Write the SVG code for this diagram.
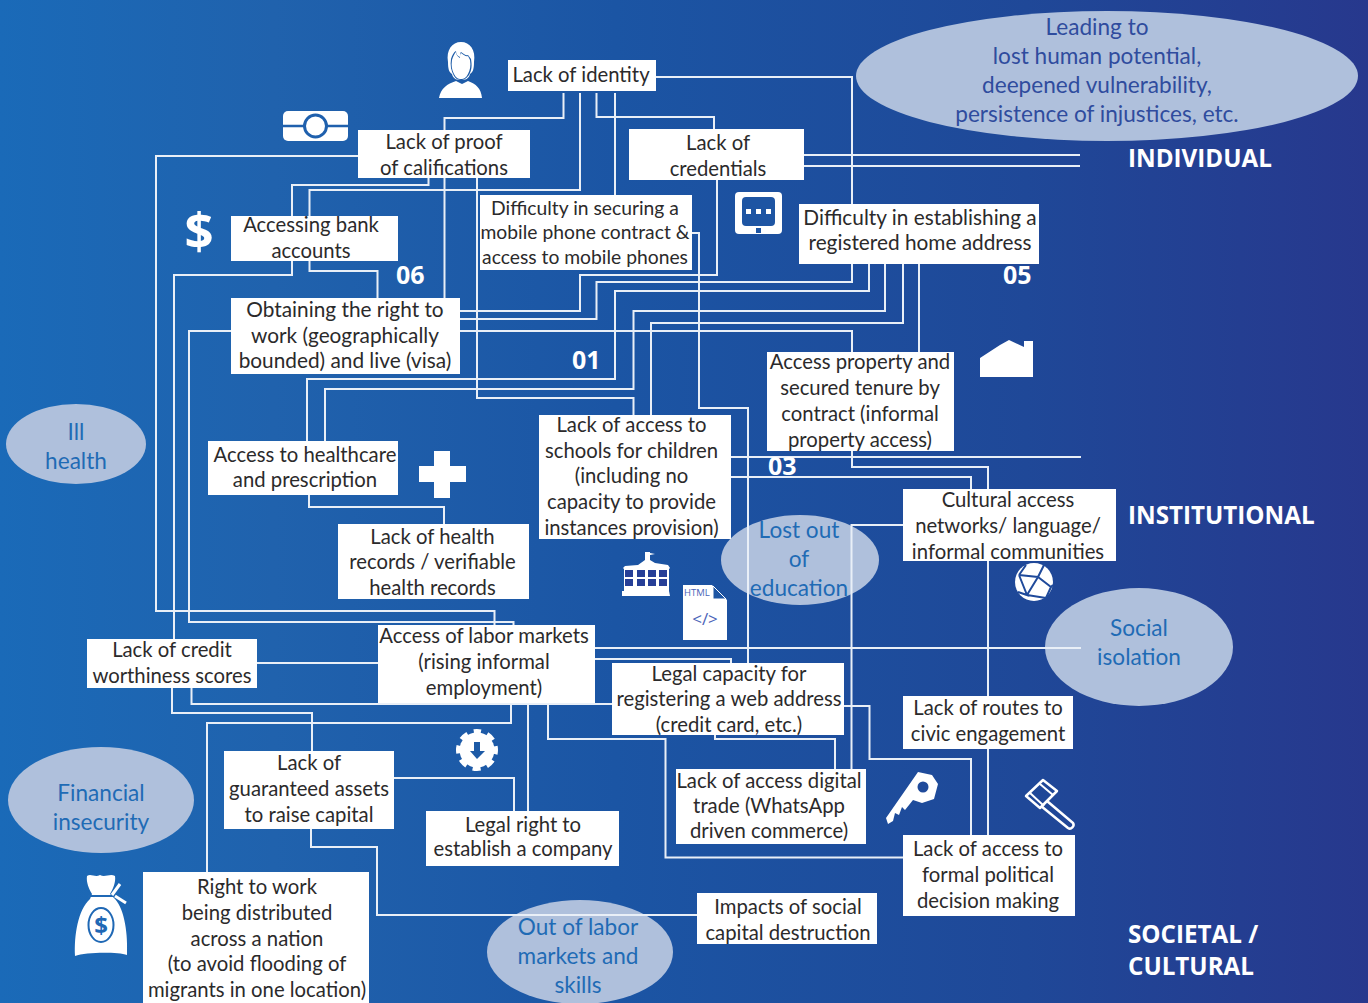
<svg xmlns="http://www.w3.org/2000/svg" width="1368" height="1003" viewBox="0 0 1368 1003">
<style>
.box{fill:#fff}
.t{font-family:"Lato","Open Sans","Liberation Sans",sans-serif;font-size:20.3px;fill:#2b2a2b;text-anchor:middle}
.m{font-size:19.300px}
.w{font-size:20.800px}
.e{font-family:"Lato","Open Sans","Liberation Sans",sans-serif;font-size:22.600px;fill:#1f6bb5;text-anchor:middle}
.e2{fill:#2f4c9e}
.el{fill:#afc0dc}
.n{font-family:"Open Sans","Liberation Sans",sans-serif;font-size:25px;font-weight:700;fill:#fff}
.h{font-family:"Open Sans","Liberation Sans",sans-serif;font-size:24.200px;font-weight:700;fill:#fff}
.c path{fill:none;stroke:#e9eff7;stroke-width:2}
.i{fill:#fff}
</style>
<defs>
<linearGradient id="bg" x1="0" y1="0" x2="1" y2="0">
<stop offset="0" stop-color="#1a6ab8"/>
<stop offset="0.2" stop-color="#2062ad"/>
<stop offset="0.45" stop-color="#1b55a4"/>
<stop offset="0.75" stop-color="#1f4898"/>
<stop offset="1" stop-color="#27388d"/>
</linearGradient>
</defs>
<rect width="1368" height="1003" fill="url(#bg)"/>

<g id="outcomes">
<ellipse class="el" cx="1107" cy="76" rx="251" ry="65"/>
<ellipse class="el" cx="76" cy="444" rx="70" ry="40"/>
<ellipse class="el" cx="101" cy="800" rx="93" ry="53"/>
<ellipse class="el" cx="800" cy="560" rx="79" ry="45"/>
<ellipse class="el" cx="1139" cy="647" rx="94" ry="59"/>
<ellipse class="el" cx="580" cy="952" rx="93" ry="52"/>
</g>

<g id="connectors" class="c">
<path d="M563.5 93V118H444.5V130"/>
<path d="M580 93V190H309.5V216"/>
<path d="M596.5 93V117H714V129"/>
<path d="M615 93V195"/>
<path d="M656 77H852V204"/>
<path d="M358 156H156V611H494.5V625"/>
<path d="M428.5 178V185H292V216"/>
<path d="M444.5 178V298"/>
<path d="M477 178V398H633.5V415"/>
<path d="M292 261V275H174V639"/>
<path d="M309.5 261V271H377.5V298"/>
<path d="M231 331H189V622H513.5V625"/>
<path d="M460 311H580V275H717V180"/>
<path d="M460 319H596.5V282H852V264"/>
<path d="M869 264V291H615V379H307V441"/>
<path d="M885 264V311H633.5V389H325V441"/>
<path d="M903 264V323H651V415"/>
<path d="M460 331H852V352"/>
<path d="M919 264V352"/>
<path d="M804 155H1080"/>
<path d="M804 166H1080"/>
<path d="M692 233H699V408H748V663"/>
<path d="M852 451V467H988V489"/>
<path d="M731 457H1081"/>
<path d="M731 477H971V489"/>
<path d="M903 525H851.5V769"/>
<path d="M988 561V696"/>
<path d="M988 749V835"/>
<path d="M595 648H1081"/>
<path d="M595 659H731V663"/>
<path d="M191.5 687V704H612"/>
<path d="M844 706H869.5V759H971V835"/>
<path d="M715 735V739H835V769"/>
<path d="M548 702V739H665.5V857.500H903"/>
<path d="M528 702V811"/>
<path d="M511 702V723H207V872"/>
<path d="M172 687V713H312V751"/>
<path d="M257 663H378"/>
<path d="M394 778H514V811"/>
<path d="M311 829V847H377V915H697"/>
<path d="M309 495V507H444V524"/>
</g>

<g id="lack-of-identity"><rect class="box" x="508" y="60" width="148" height="31"/><text class="t" x="581" y="82">Lack of identity</text></g>
<g id="proof"><rect class="box" x="358" y="130" width="172" height="48"/><text class="t" x="444" y="149">Lack of proof</text><text class="t" x="444" y="175">of califications</text></g>
<g id="credentials"><rect class="box" x="629" y="129" width="175" height="51"/><text class="t" x="718" y="150">Lack of</text><text class="t" x="718" y="176">credentials</text></g>
<g id="mobile"><rect class="box" x="480" y="195" width="212" height="75"/><text class="t m" x="585" y="215">Difficulty in securing a</text><text class="t m" x="585" y="239">mobile phone contract &amp;</text><text class="t m" x="585" y="264">access to mobile phones</text></g>
<g id="bank"><rect class="box" x="231" y="216" width="167" height="45"/><text class="t" x="311" y="232">Accessing bank</text><text class="t" x="311" y="258">accounts</text></g>
<g id="home"><rect class="box" x="799" y="204" width="240" height="60"/><text class="t w" x="920" y="225">Difficulty in establishing a</text><text class="t w" x="920" y="250">registered home address</text></g>
<g id="visa"><rect class="box" x="231" y="298" width="229" height="76"/><text class="t w" x="345" y="317">Obtaining the right to</text><text class="t w" x="345" y="343">work (geographically</text><text class="t w" x="345" y="368">bounded) and live (visa)</text></g>
<g id="property"><rect class="box" x="767" y="352" width="187" height="99"/><text class="t" x="860" y="369">Access property and</text><text class="t" x="860" y="395">secured tenure by</text><text class="t" x="860" y="421">contract (informal</text><text class="t" x="860" y="447">property access)</text></g>
<g id="schools"><rect class="box" x="539" y="415" width="192" height="124"/><text class="t" x="631.500" y="432">Lack of access to</text><text class="t" x="631.500" y="458">schools for children</text><text class="t" x="631.500" y="483">(including no</text><text class="t" x="631.500" y="509">capacity to provide</text><text class="t" x="631.500" y="535">instances provision)</text></g>
<g id="healthcare"><rect class="box" x="208" y="441" width="190" height="54"/><text class="t" x="305" y="462">Access to healthcare</text><text class="t" x="305" y="487">and prescription</text></g>
<g id="records"><rect class="box" x="338" y="524" width="191" height="75"/><text class="t" x="432.500" y="544">Lack of health</text><text class="t" x="432.500" y="569">records / verifiable</text><text class="t" x="432.500" y="595">health records</text></g>
<g id="labor"><rect class="box" x="378" y="625" width="217" height="78"/><text class="t" x="484" y="643">Access of labor markets</text><text class="t" x="484" y="669">(rising informal</text><text class="t" x="484" y="695">employment)</text></g>
<g id="credit"><rect class="box" x="87" y="639" width="170" height="49"/><text class="t" x="172" y="657">Lack of credit</text><text class="t" x="172" y="683">worthiness scores</text></g>
<g id="legal-web"><rect class="box" x="612" y="663" width="232" height="72"/><text class="t" x="729" y="681">Legal capacity for</text><text class="t" x="729" y="706">registering a web address</text><text class="t" x="729" y="732">(credit card, etc.)</text></g>
<g id="cultural"><rect class="box" x="903" y="489" width="213" height="72"/><text class="t" x="1008" y="507">Cultural access</text><text class="t" x="1008" y="533">networks/ language/</text><text class="t" x="1008" y="559">informal communities</text></g>
<g id="routes"><rect class="box" x="903" y="696" width="170" height="53"/><text class="t" x="988" y="715">Lack of routes to</text><text class="t" x="988" y="741">civic engagement</text></g>
<g id="political"><rect class="box" x="903" y="835" width="172" height="81"/><text class="t" x="988" y="856">Lack of access to</text><text class="t" x="988" y="882">formal political</text><text class="t" x="988" y="908">decision making</text></g>
<g id="digital"><rect class="box" x="676" y="769" width="190" height="75"/><text class="t" x="769" y="788">Lack of access digital</text><text class="t" x="769" y="813">trade (WhatsApp</text><text class="t" x="769" y="838">driven commerce)</text></g>
<g id="impacts"><rect class="box" x="697" y="893" width="180" height="51"/><text class="t" x="788" y="914">Impacts of social</text><text class="t" x="788" y="940">capital destruction</text></g>
<g id="assets"><rect class="box" x="224" y="751" width="170" height="78"/><text class="t" x="309" y="770">Lack of</text><text class="t" x="309" y="796">guaranteed assets</text><text class="t" x="309" y="822">to raise capital</text></g>
<g id="company"><rect class="box" x="426" y="811" width="193" height="55"/><text class="t" x="523" y="832">Legal right to</text><text class="t" x="523" y="856">establish a company</text></g>
<g id="right-to-work"><rect class="box" x="143" y="872" width="226" height="131"/><text class="t" x="257" y="894">Right to work</text><text class="t" x="257" y="920">being distributed</text><text class="t" x="257" y="946">across a nation</text><text class="t" x="257" y="971">(to avoid flooding of</text><text class="t" x="257" y="997">migrants in one location)</text></g>

<g id="outcome-labels">
<text class="e e2" x="1097" y="35">Leading to</text><text class="e e2" x="1097" y="64">lost human potential,</text><text class="e e2" x="1097" y="93">deepened vulnerability,</text><text class="e e2" x="1097" y="122">persistence of injustices, etc.</text>
<text class="e" x="76" y="440">Ill</text><text class="e" x="76" y="469">health</text>
<text class="e" x="101" y="801">Financial</text><text class="e" x="101" y="830">insecurity</text>
<text class="e" x="799" y="538">Lost out</text><text class="e" x="799" y="567">of</text><text class="e" x="799" y="596">education</text>
<text class="e" x="1139" y="636">Social</text><text class="e" x="1139" y="665">isolation</text>
<text class="e" x="578" y="935">Out of labor</text><text class="e" x="578" y="964">markets and</text><text class="e" x="578" y="993">skills</text>
</g>

<g id="numbers">
<text class="n" x="396" y="284">06</text><text class="n" x="1003" y="284">05</text><text class="n" x="572" y="369">01</text><text class="n" x="768" y="475">03</text>
</g>
<g id="levels">
<text class="h" x="1128" y="167">INDIVIDUAL</text><text class="h" x="1128" y="524">INSTITUTIONAL</text><text class="h" x="1128" y="943">SOCIETAL /</text><text class="h" x="1128" y="975">CULTURAL</text>
</g>

<g id="icon-person">
<path class="i" d="M439 98C441 88 447 84 456 81L462 84L468 81C476 84 481 88 482 98Z"/>
<path class="i" d="M448 62C446 50 452 42 461 42C470 42 476 50 474 62C474 69 473 72 470 74C469 79 465 80 461 80C457 80 453 79 452 74C449 72 448 69 448 62Z"/>
<path fill="#1d5ca8" d="M451 59C452 55 454 52 456 51C456 54 457 56 460 57C460 54 460 53 461 52C464 54 466 56 468 55L471 59C472 65 472 70 469 75C466 79 464 80 461 80C458 80 456 79 454 76C451 71 450 65 451 59Z"/>
<path class="i" d="M452 60C453 56 455 53 456 52C456 55 458 57 460 58C460 55 460 54 461 53C464 55 466 57 468 56L470 60C471 66 470 70 468 74C466 78 464 79 461 79C458 79 456 78 454 74C452 70 451 66 452 60Z"/>
</g>
<g id="icon-card">
<rect class="i" x="283" y="111" width="65" height="30" rx="5"/>
<path d="M283 126H348" stroke="#1f60ad" stroke-width="2.500"/>
<circle cx="315.500" cy="126" r="11" fill="#fff" stroke="#1f60ad" stroke-width="3"/>
</g>
<g id="icon-dollar"><text x="199" y="249" font-family="Open Sans,Liberation Sans,sans-serif" font-size="51" font-weight="700" fill="#fff" text-anchor="middle">$</text></g>
<g id="icon-tablet">
<rect class="i" x="735" y="192" width="47" height="42" rx="4"/>
<rect x="742" y="197" width="33" height="29" rx="4" fill="#1e55a3"/>
<rect class="i" x="746" y="209" width="5" height="5"/><rect class="i" x="756" y="209" width="5" height="5"/><rect class="i" x="766" y="209" width="5" height="5"/>
<rect x="756" y="228" width="5" height="5" fill="#1e55a3"/>
</g>
<g id="icon-house"><path class="i" d="M980 358V377H1033V341H1024V347L1009 340L1000 345Z"/></g>
<g id="icon-plus"><path class="i" d="M434 451H450V466H466V482H450V498H434V482H419V466H434Z"/></g>
<g id="icon-school">
<path class="i" d="M622 596V591L624 591V569L623 568L625 566L638 565L645 560V552H650V553L655 554L650 555V560L655 563L668 565L670 568L669 569V591L670 596Z"/>
<path fill="#263f97" d="M625 570h8v7h-8zM637 570h8v7h-8zM648 570h8v7h-8zM659 570h8v7h-8zM625 579h8v7h-8zM637 579h8v7h-8zM648 579h8v7h-8zM659 579h8v7h-8z"/>
</g>
<g id="icon-html">
<path class="i" d="M683 585H712L727 600V640H683Z"/>
<path d="M713 586V599H726Z" fill="#1d55a3" stroke="#fff" stroke-width="1"/>
<text x="684" y="596" font-family="Open Sans,Liberation Sans,sans-serif" font-size="9.500" fill="#4a63b8">HTML</text>
<text x="705" y="625" font-family="Open Sans,Liberation Sans,sans-serif" font-size="17" fill="#4a63b8" text-anchor="middle">&lt;/&gt;</text>
</g>
<g id="icon-globe">
<circle class="i" cx="1034" cy="582" r="19"/>
<path d="M1019 575L1038 577L1051 587M1038 577L1027 595L1046 598M1019 575L1027 595L1018 592M1038 577L1045 563M1019 575L1026 565M1051 587L1046 598M1051 587L1053 585" fill="none" stroke="#1f4a9b" stroke-width="2"/>
</g>
<g id="icon-key">
<path class="i" d="M918 772L932 775L938 784L934 799L922 803L913 800L905 810L902 807L899 815L895 813L893 821L888 824L886 818Z"/>
<circle cx="923" cy="787" r="5.500" fill="#1f4a9b"/>
</g>
<g id="icon-gavel" fill="none" stroke="#fff" stroke-width="2.500" stroke-linejoin="round">
<path d="M1026 796L1043 780L1057 791L1040 808Z"/>
<path d="M1030 793L1044 806M1040 784L1053 795" stroke-width="2"/>
<path d="M1047 801L1073 823C1075 826 1071 830 1068 828L1041 806"/>
</g>
<g id="icon-gear">
<circle class="i" cx="477" cy="750" r="17.500"/>
<circle cx="477" cy="750" r="18.500" fill="none" stroke="#fff" stroke-width="5" stroke-dasharray="8 6.530" stroke-dashoffset="4" transform="rotate(-90 477 750)"/>
<path fill="#1d5aa6" d="M474 742H480V751H485L477 759L470 751H474Z"/>
</g>
<g id="icon-bag">
<path class="i" d="M87 876C91 873 95 878 100 875C105 878 110 873 115 876C116 882 113 889 110 894L115 899C125 910 128 935 127 955C118 952 86 952 75 956C74 935 78 910 90 899L92 894C89 889 86 882 87 876Z"/>
<path d="M88 896H114" stroke="#1f68b5" stroke-width="2"/>
<path d="M112 895L120 884M115 896L126 903" stroke="#fff" stroke-width="3"/>
<ellipse cx="101" cy="925" rx="12.500" ry="17" fill="none" stroke="#1f68b5" stroke-width="2"/>
<text x="101" y="934" font-family="Open Sans,Liberation Sans,sans-serif" font-size="24" font-weight="700" fill="#1f68b5" text-anchor="middle">$</text>
</g>
</svg>
